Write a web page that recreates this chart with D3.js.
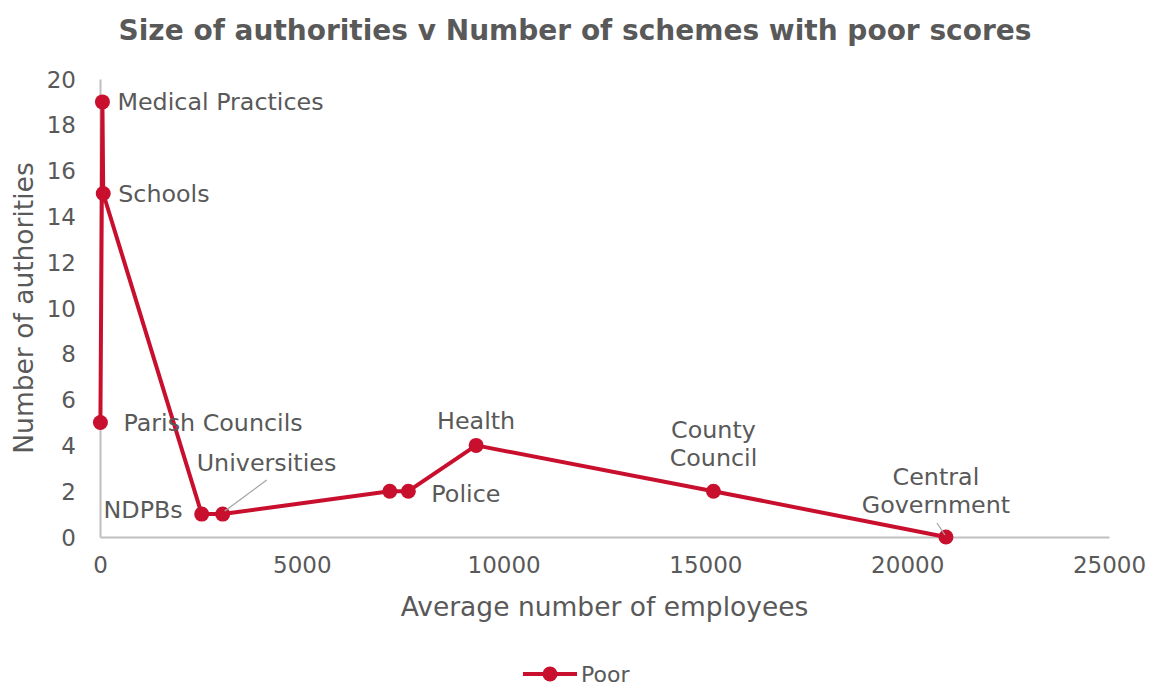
<!DOCTYPE html>
<html>
<head>
<meta charset="utf-8">
<script src="https://cdn.jsdelivr.net/npm/d3@7"></script>
<style>
  html, body { margin: 0; padding: 0; background: #fff; }
  svg { display: block; font-family: "DejaVu Sans", Verdana, sans-serif; }
</style>
</head>
<body>
<svg id="chart" width="1150" height="688"></svg>
<script>
// Authority groups, their average head-count and the number scoring "Poor"
const groups = ["Parish Councils", "Medical Practices", "Schools", "NDPBs", "Universities",
                "", "Police", "Health", "County Council", "Central Government"];
const employees = [10, 60, 80, 2520, 3040, 7180, 7640, 9320, 15200, 20960];
const authorities = [5, 19, 15, 1, 1, 2, 2, 4, 2, 0];
const xTicks = [0, 5000, 10000, 15000, 20000, 25000];
const yTicks = [0, 2, 4, 6, 8, 10, 12, 14, 16, 18, 20];
const seriesName = "Poor";

const W = 1150, H = 688;
const plot = { left: 100, right: 1109, top: 79, bottom: 537 };
const red = "#C8102E", grey = "#BFBFBF", ink = "#595959";

const svg = d3.select("#chart");

const x = d3.scaleLinear().domain([0, 25000]).range([plot.left, plot.right]);
const y = d3.scaleLinear().domain([0, 20]).range([plot.bottom, plot.top]);

// Title
svg.append("text")
  .attr("x", W / 2).attr("y", 30).attr("dy", "0.35em")
  .attr("text-anchor", "middle")
  .attr("font-size", 28).attr("font-weight", "bold").attr("fill", ink)
  .text("Size of authorities v Number of schemes with poor scores");

// Axes
const xAxis = svg.append("g")
  .attr("transform", `translate(0,${plot.bottom})`)
  .call(d3.axisBottom(x).tickValues(xTicks).tickSize(0).tickPadding(20).tickFormat(d3.format("d")));
const yAxis = svg.append("g")
  .attr("transform", `translate(${plot.left},0)`)
  .call(d3.axisLeft(y).tickValues(yTicks).tickSize(0).tickPadding(24).tickFormat(d3.format("d")));

[xAxis, yAxis].forEach(g => {
  g.select(".domain").attr("stroke", grey).attr("stroke-width", 2);
  g.selectAll("text").attr("fill", ink).attr("font-size", 23)
    .attr("font-family", "DejaVu Sans, Verdana, sans-serif");
});
yAxis.selectAll("text").attr("dy", "0.35em");

// Axis titles
svg.append("text")
  .attr("x", (plot.left + plot.right) / 2).attr("y", 607).attr("dy", "0.35em")
  .attr("text-anchor", "middle").attr("font-size", 26.5).attr("fill", ink)
  .text("Average number of employees");
svg.append("text")
  .attr("transform", `translate(24,${(plot.top + plot.bottom) / 2}) rotate(-90)`)
  .attr("dy", "0.35em")
  .attr("text-anchor", "middle").attr("font-size", 26.5).attr("fill", ink)
  .text("Number of authorities");

const pts = employees.map((e, i) => ({ name: groups[i], x: e, y: authorities[i] }));

// Series line and markers
svg.append("path")
  .datum(pts)
  .attr("fill", "none").attr("stroke", red).attr("stroke-width", 4)
  .attr("stroke-linejoin", "round")
  .attr("d", d3.line().x(d => x(d.x)).y(d => y(d.y)));

svg.append("g").selectAll("circle")
  .data(pts).join("circle")
  .attr("cx", d => x(d.x)).attr("cy", d => y(d.y)).attr("r", 7.5)
  .attr("fill", red);

// Point labels: offsets from each marker, with leader lines where the label sits apart
const labelPlacement = {
  "Parish Councils":    { dx: 23,  dy: [0],        anchor: "start" },
  "Medical Practices":  { dx: 15,  dy: [0],        anchor: "start" },
  "Schools":            { dx: 15,  dy: [0],        anchor: "start" },
  "NDPBs":              { dx: -19, dy: [-4],       anchor: "end" },
  "Universities":       { dx: -26, dy: [-51],      anchor: "start", leader: [[44, -34], [2, -3]] },
  "Police":             { dx: 23,  dy: [2],        anchor: "start" },
  "Health":             { dx: 0,   dy: [-25],      anchor: "middle" },
  "County Council":     { dx: 0,   dy: [-62, -34], anchor: "middle", lines: ["County", "Council"] },
  "Central Government": { dx: -10, dy: [-60, -32], anchor: "middle", lines: ["Central", "Government"],
                          leader: [[-9, -14], [-1, -2]] }
};

const labels = svg.append("g");
pts.filter(d => d.name).forEach(d => {
  const p = labelPlacement[d.name];
  const px = x(d.x), py = y(d.y);
  if (p.leader) {
    labels.append("line")
      .attr("x1", px + p.leader[0][0]).attr("y1", py + p.leader[0][1])
      .attr("x2", px + p.leader[1][0]).attr("y2", py + p.leader[1][1])
      .attr("stroke", "#A6A6A6").attr("stroke-width", 1.3);
  }
  const lines = p.lines || [d.name];
  lines.forEach((txt, j) => {
    labels.append("text")
      .attr("x", px + p.dx).attr("y", py + p.dy[j]).attr("dy", "0.35em")
      .attr("text-anchor", p.anchor).attr("font-size", 23.8).attr("fill", ink)
      .text(txt);
  });
});

// Legend
const lg = svg.append("g").attr("transform", "translate(550,674)");
lg.append("line").attr("x1", -27).attr("x2", 27).attr("stroke", red).attr("stroke-width", 4);
lg.append("circle").attr("r", 7.5).attr("fill", red);
lg.append("text").attr("x", 31).attr("dy", "0.35em")
  .attr("font-size", 22).attr("fill", ink).text(seriesName);
</script>
</body>
</html>
